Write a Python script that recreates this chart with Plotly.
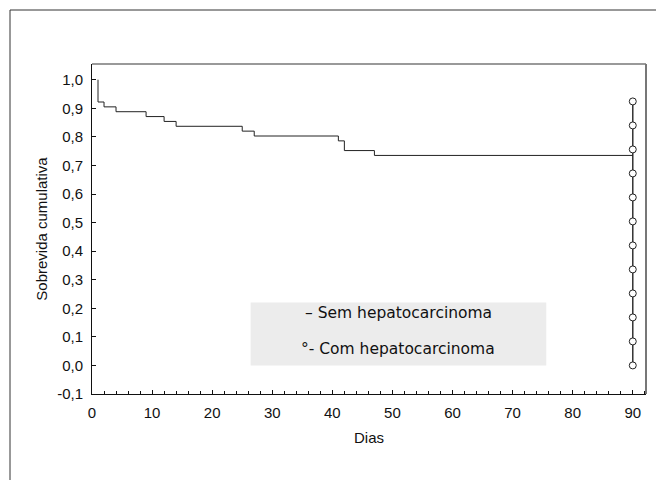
import plotly.graph_objects as go

# Kaplan-Meier curve (Sem hepatocarcinoma)
km_days = [1, 1, 2, 4, 9, 12, 14, 25, 27, 41, 42, 47, 90]
km_surv = [1.0, 0.922, 0.905, 0.888, 0.871, 0.854, 0.837, 0.820, 0.803, 0.786, 0.752, 0.735, 0.735]

# Censored group (Com hepatocarcinoma) at day 90
cens_day = 90
cens_surv = [0.0, 0.084, 0.168, 0.252, 0.336, 0.420, 0.504, 0.588, 0.672, 0.756, 0.840, 0.924]

x_ticks = [0, 10, 20, 30, 40, 50, 60, 70, 80, 90]
y_ticks = [-0.1, 0.0, 0.1, 0.2, 0.3, 0.4, 0.5, 0.6, 0.7, 0.8, 0.9, 1.0]
y_tick_labels = ["-0,1", "0,0", "0,1", "0,2", "0,3", "0,4", "0,5", "0,6", "0,7", "0,8", "0,9", "1,0"]

legend_lines = ["– Sem hepatocarcinoma", "°- Com hepatocarcinoma"]

fig = go.Figure()

fig.add_trace(go.Scatter(
    x=[cens_day] * len(cens_surv), y=cens_surv, mode="lines+markers",
    line=dict(color="#333333", width=1.5),
    marker=dict(symbol="circle", size=7, color="white", line=dict(color="#222222", width=1)),
    showlegend=False, hoverinfo="skip"))

fig.add_trace(go.Scatter(
    x=km_days, y=km_surv, mode="lines", line=dict(color="#222222", width=1, shape="hv"),
    showlegend=False, hoverinfo="skip"))

# legend box
fig.add_shape(type="rect", xref="x", yref="y", x0=26.4, x1=75.6, y0=0.0, y1=0.22,
              fillcolor="#ececec", line=dict(width=0), layer="below")
fig.add_annotation(x=51, y=0.185, xref="x", yref="y", text=legend_lines[0], showarrow=False,
                   font=dict(family="DejaVu Sans", size=15.5, color="#111111"))
fig.add_annotation(x=51, y=0.058, xref="x", yref="y", text=legend_lines[1], showarrow=False,
                   font=dict(family="DejaVu Sans", size=15.5, color="#111111"))

# plot frame top and right (gray)
fig.add_shape(type="line", xref="paper", yref="paper", x0=0, x1=1, y0=1, y1=1,
              line=dict(color="#777777", width=1.5))
fig.add_shape(type="line", xref="paper", yref="paper", x0=1, x1=1, y0=0, y1=1,
              line=dict(color="#777777", width=2))

# outer figure frame (top and left)
fx = -82 / 554
fy = 1 + 54 / 330
fig.add_shape(type="line", xref="paper", yref="paper", x0=fx, x1=1.1, y0=fy, y1=fy,
              line=dict(color="#333333", width=1))
fig.add_shape(type="line", xref="paper", yref="paper", x0=fx, x1=fx, y0=-0.3, y1=fy,
              line=dict(color="#333333", width=1))

font_main = dict(family="Liberation Sans, Arial, sans-serif", size=15, color="#111111")

fig.update_layout(
    width=656, height=472,
    margin=dict(l=84, r=18, t=56, b=86),
    paper_bgcolor="white", plot_bgcolor="white",
    font=font_main,
    xaxis=dict(range=[0, 92.2], tickvals=x_ticks, ticks="inside", ticklen=4, tickcolor="#111111",
               showline=True, linecolor="#111111", linewidth=1, showgrid=False, zeroline=False,
               minor=dict(dtick=2, ticks="inside", ticklen=3, tickcolor="#111111"),
               ticklabelstandoff=5,
               title=dict(text="Dias", font=font_main, standoff=12), tickfont=font_main),
    yaxis=dict(range=[-0.1, 1.055], tickvals=y_ticks, ticktext=y_tick_labels, ticks="inside", ticklen=4,
               tickcolor="#111111", showline=True, linecolor="#111111", linewidth=1, showgrid=False,
               zeroline=False, ticklabelstandoff=5,
               title=dict(text="Sobrevida cumulativa", font=font_main, standoff=5),
               tickfont=font_main),
)

fig.write_html("out.html")
